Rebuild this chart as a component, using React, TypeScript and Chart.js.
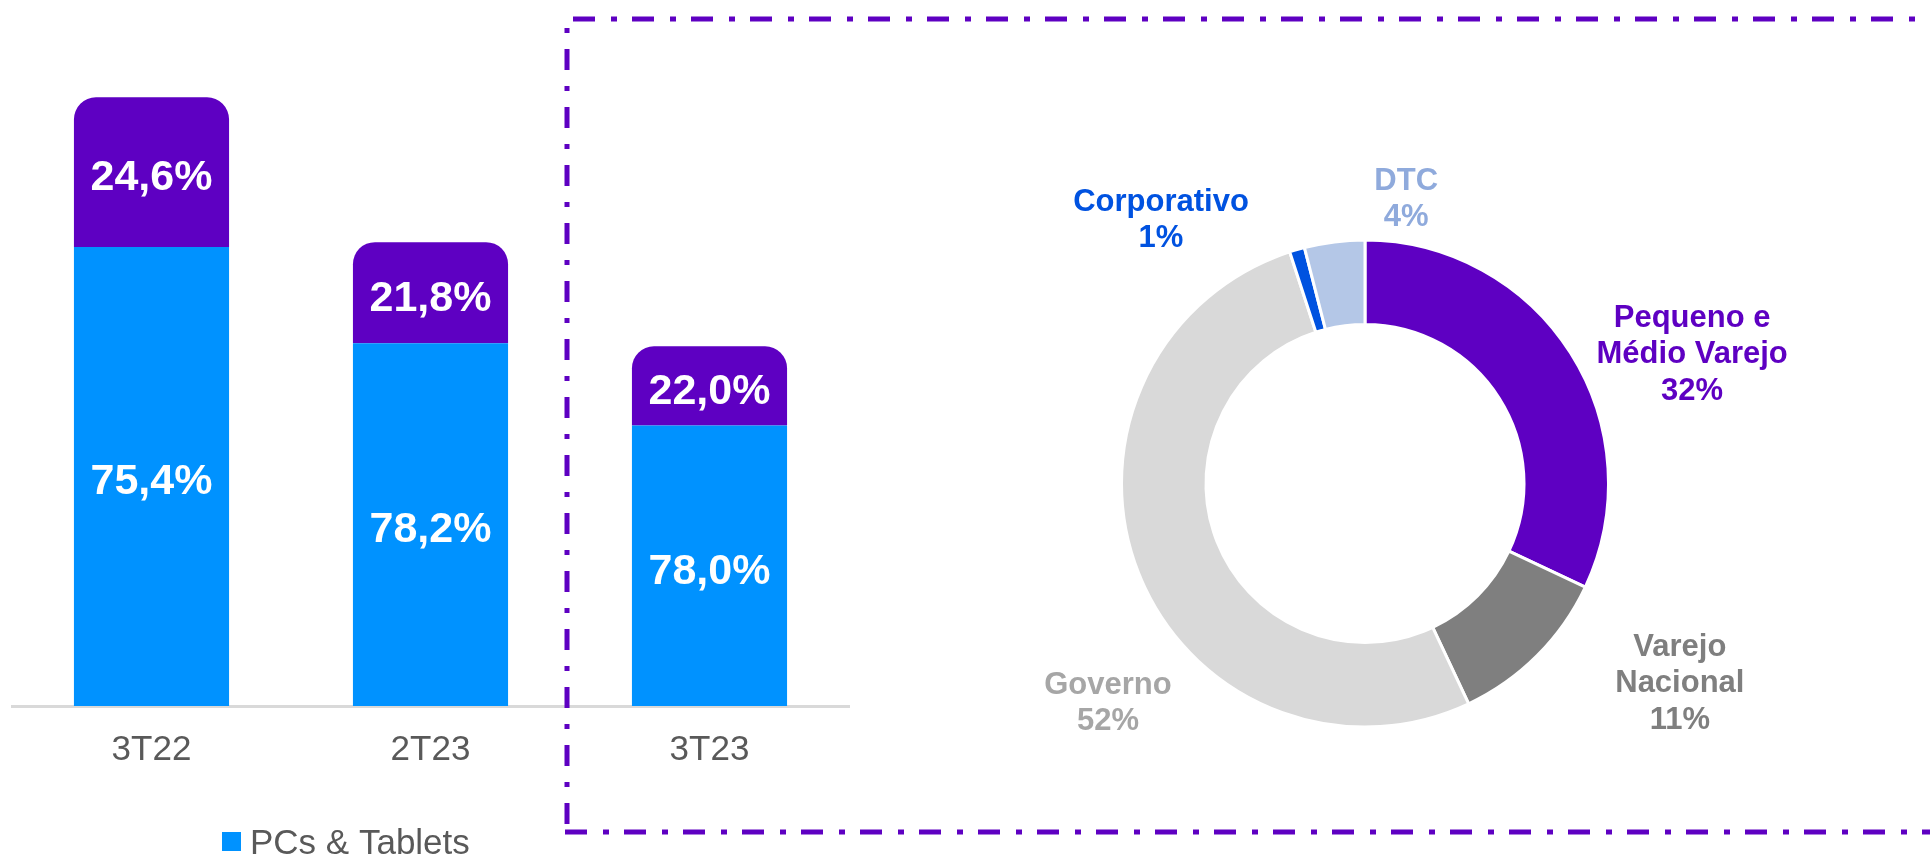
import React, { useEffect, useRef } from 'react';
import { Chart, registerables } from 'chart.js';

Chart.register(...registerables);

const FONT = "'Liberation Sans', Arial, Helvetica, sans-serif";

// ---- Bar chart data ----
const categories = ['3T22', '2T23', '3T23'];
const seriesNames = ['PCs & Tablets', 'Outros'];
const pcsValues = [75.4, 59.6, 46.1];
const otherValues = [24.6, 16.6, 13.0];
const pcsLabels = ['75,4%', '78,2%', '78,0%'];
const otherLabels = ['24,6%', '21,8%', '22,0%'];

// ---- Donut data ----
const segmentNames = ['Pequeno e\nMédio Varejo', 'Varejo\nNacional', 'Governo', 'Corporativo', 'DTC'];
const segmentValues = [32, 11, 52, 1, 4];

// ---- Styles ----
const BLUE = '#0092FF';
const PURPLE = '#5E00C2';
const segmentColors = [PURPLE, '#7F7F7F', '#D9D9D9', '#0052E0', '#B4C7E7'];
const segmentLabelColors = [PURPLE, '#7F7F7F', '#A6A6A6', '#0052E0', '#8FAADC'];
// label placement: angle (deg, clockwise from 12 o'clock) and distance (multiple of outer radius)
const labelAngles = [68.2, 122.2, 229.7, 322.4, 8.2];
const labelDistances = [1.447, 1.528, 1.384, 1.373, 1.186];

const barLabelPlugin = {
  id: 'barLabels',
  afterDatasetsDraw(chart: any) {
    const ctx = chart.ctx;
    const all = [pcsLabels, otherLabels];
    ctx.save();
    ctx.font = `bold 43px ${FONT}`;
    ctx.fillStyle = '#FFFFFF';
    ctx.textAlign = 'center';
    ctx.textBaseline = 'middle';
    chart.data.datasets.forEach((_ds: any, di: number) => {
      const meta = chart.getDatasetMeta(di);
      meta.data.forEach((el: any, i: number) => {
        const { x, y, base } = el.getProps(['x', 'y', 'base'], true);
        ctx.fillText(all[di][i], x, (y + base) / 2 + 6);
      });
    });
    ctx.restore();
  },
};

const legendPlugin = {
  id: 'manualLegend',
  afterDraw(chart: any) {
    const ctx = chart.ctx;
    const ds = chart.data.datasets[0];
    ctx.save();
    ctx.fillStyle = ds.backgroundColor;
    ctx.fillRect(222, 832, 19, 19);
    ctx.fillStyle = '#595959';
    ctx.font = `35px ${FONT}`;
    ctx.textAlign = 'left';
    ctx.textBaseline = 'alphabetic';
    ctx.fillText(ds.label, 250, 854);
    ctx.restore();
  },
};

const donutLabelPlugin = {
  id: 'donutLabels',
  afterDatasetsDraw(chart: any) {
    const meta = chart.getDatasetMeta(0);
    const ctx = chart.ctx;
    ctx.save();
    ctx.font = `bold 31px ${FONT}`;
    ctx.textAlign = 'center';
    ctx.textBaseline = 'middle';
    meta.data.forEach((arc: any, i: number) => {
      const { x, y, outerRadius } = arc.getProps(['x', 'y', 'outerRadius'], true);
      const a = (labelAngles[i] * Math.PI) / 180;
      const r = outerRadius * labelDistances[i];
      const cx = x + Math.sin(a) * r;
      const cy = y - Math.cos(a) * r;
      const lines = [...segmentNames[i].split('\n'), `${segmentValues[i]}%`];
      ctx.fillStyle = segmentLabelColors[i];
      lines.forEach((ln, k) => {
        ctx.fillText(ln, cx, cy + (k - (lines.length - 1) / 2) * 36.5 + 2);
      });
    });
    ctx.restore();
  },
};

export default function App() {
  const barRef = useRef<HTMLCanvasElement>(null);
  const donutRef = useRef<HTMLCanvasElement>(null);

  useEffect(() => {
    const bar = new Chart(barRef.current as HTMLCanvasElement, {
      type: 'bar',
      data: {
        labels: categories,
        datasets: [
          {
            label: seriesNames[0],
            data: pcsValues,
            backgroundColor: BLUE,
            borderWidth: 0,
            borderRadius: 0,
          },
          {
            label: seriesNames[1],
            data: otherValues,
            backgroundColor: PURPLE,
            borderWidth: 0,
            borderSkipped: 'start',
            borderRadius: { topLeft: 22, topRight: 22, bottomLeft: 0, bottomRight: 0 },
          },
        ],
      },
      options: {
        responsive: false,
        animation: false,
        events: [],
        layout: { padding: { left: 12, right: 11, top: 6, bottom: 63 } },
        datasets: { bar: { categoryPercentage: 1, barPercentage: 0.556 } },
        scales: {
          x: {
            stacked: true,
            grid: { display: false, drawTicks: false },
            border: { display: true, color: '#D9D9D9', width: 3 },
            ticks: { color: '#595959', font: { family: FONT, size: 35 }, padding: 23 },
          },
          y: { stacked: true, display: false, min: 0, max: 115 },
        },
        plugins: { legend: { display: false }, tooltip: { enabled: false } },
      } as any,
      plugins: [barLabelPlugin, legendPlugin],
    });

    const donut = new Chart(donutRef.current as HTMLCanvasElement, {
      type: 'doughnut',
      data: {
        labels: segmentNames.map((n) => n.replace('\n', ' ')),
        datasets: [
          {
            data: segmentValues,
            backgroundColor: segmentColors,
            borderColor: '#FFFFFF',
            borderWidth: 3,
          },
        ],
      },
      options: {
        responsive: false,
        animation: false,
        events: [],
        radius: 243.5,
        cutout: '65.3%',
        layout: { padding: { left: 0, right: 60, top: 110, bottom: 0 } },
        plugins: { legend: { display: false }, tooltip: { enabled: false } },
      } as any,
      plugins: [donutLabelPlugin],
    });

    return () => {
      bar.destroy();
      donut.destroy();
    };
  }, []);

  return (
    <div
      style={{
        position: 'fixed',
        left: 0,
        top: 0,
        width: 1930,
        height: 857,
        overflow: 'hidden',
        background: '#FFFFFF',
      }}
    >
      <canvas
        ref={barRef}
        width={860}
        height={857}
        style={{ position: 'absolute', left: 0, top: 0, width: 860, height: 857 }}
      />
      <canvas
        ref={donutRef}
        width={1070}
        height={857}
        style={{ position: 'absolute', left: 860, top: 0, width: 1070, height: 857 }}
      />
      <svg
        width={1930}
        height={857}
        style={{ position: 'absolute', left: 0, top: 0, pointerEvents: 'none' }}
      >
        <g stroke={PURPLE} strokeWidth={5} fill="none">
          <line x1={567} y1={19} x2={1945} y2={19} strokeDasharray="22 16 6 15" strokeDashoffset={53} />
          <line x1={567} y1={19} x2={567} y2={834} strokeDasharray="21 16 5 16" strokeDashoffset={28} />
          <line x1={565} y1={832} x2={1945} y2={832} strokeDasharray="22 16 6 15" strokeDashoffset={0} />
        </g>
      </svg>
    </div>
  );
}
